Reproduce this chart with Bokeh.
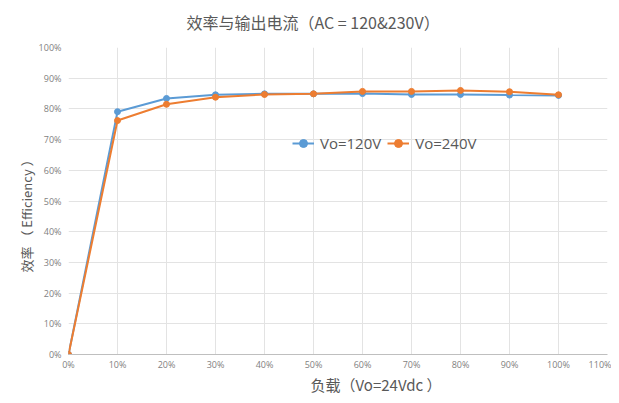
from bokeh.plotting import figure
from bokeh.models import FixedTicker, PrintfTickFormatter, Range1d, Legend, LegendItem, Title
from bokeh.embed import file_html
from bokeh.resources import INLINE

load = [0, 10, 20, 30, 40, 50, 60, 70, 80, 90, 100]
eff_120 = [0, 79.1, 83.4, 84.6, 84.9, 84.9, 85.0, 84.7, 84.7, 84.5, 84.4]
eff_240 = [0, 76.2, 81.5, 83.8, 84.7, 84.9, 85.7, 85.7, 86.0, 85.6, 84.6]
x_ticks = list(range(0, 111, 10))
y_ticks = list(range(0, 101, 10))

FONT = "Noto Sans CJK SC"
GRAY = "#595959"

p = figure(frame_width=539, frame_height=307, output_backend="svg", toolbar_location=None,
           title=None,
           x_range=Range1d(0, 110), y_range=Range1d(0, 100),
           min_border_left=68, min_border_right=4, min_border_top=47, min_border_bottom=41)

# spacer between chart title and plot area, then the chart title
p.add_layout(Title(text=" ", text_font_size="10px", standoff=0), "above")
p.add_layout(Title(text="效率与输出电流（AC = 120&230V）", align="left", offset=118,
                   vertical_align="bottom", text_font=FONT, text_font_size="16px",
                   text_font_style="normal", text_color=GRAY, standoff=2), "above")

p.outline_line_color = None
for ax in (p.xaxis, p.yaxis):
    ax.major_tick_line_color = None
    ax.minor_tick_line_color = None
    ax.major_label_text_font_size = "9px"
    ax.major_label_text_color = "#7f7f7f"
    ax.major_label_text_font = "Open Sans"
    ax.formatter = PrintfTickFormatter(format="%d%%")
p.xaxis.major_label_standoff = -3
p.yaxis.major_label_standoff = 1
p.xaxis.ticker = FixedTicker(ticks=x_ticks)
p.yaxis.ticker = FixedTicker(ticks=y_ticks)
p.xaxis.axis_line_color = "#bfbfbf"
p.yaxis.axis_line_color = None

p.add_layout(Title(text="负载（Vo=24Vdc ）", align="left", offset=242, vertical_align="top",
                   text_font=FONT, text_font_size="15px", text_font_style="normal",
                   text_color=GRAY, standoff=0), "below")
p.add_layout(Title(text="效率 （ Efficiency ）", align="left", offset=82,
                   text_font=FONT, text_font_size="13px", text_font_style="normal",
                   text_color=GRAY, standoff=0), "left")
p.add_layout(Title(text=" ", text_font_size="10px", standoff=0), "left")

p.xgrid.grid_line_color = "#e3e3e3"
p.ygrid.grid_line_color = "#e3e3e3"

BLUE = "#5B9BD5"
ORANGE = "#ED7D31"
l1 = p.line(load, eff_120, line_color=BLUE, line_width=2)
c1 = p.scatter(load, eff_120, size=6, fill_color=BLUE, line_color=BLUE)
l2 = p.line(load, eff_240, line_color=ORANGE, line_width=2)
c2 = p.scatter(load, eff_240, size=6, fill_color=ORANGE, line_color=ORANGE)

legend = Legend(items=[LegendItem(label="Vo=120V", renderers=[l1, c1]),
                       LegendItem(label="Vo=240V", renderers=[l2, c2])],
                orientation="horizontal", location=(224, 201),
                background_fill_alpha=0, border_line_color=None,
                label_text_font="Open Sans", label_text_font_size="15px",
                label_text_color=GRAY, glyph_width=22, spacing=6, padding=0,
                label_standoff=6)
p.add_layout(legend, "center")

open("out.html", "w").write(file_html(p, INLINE))
